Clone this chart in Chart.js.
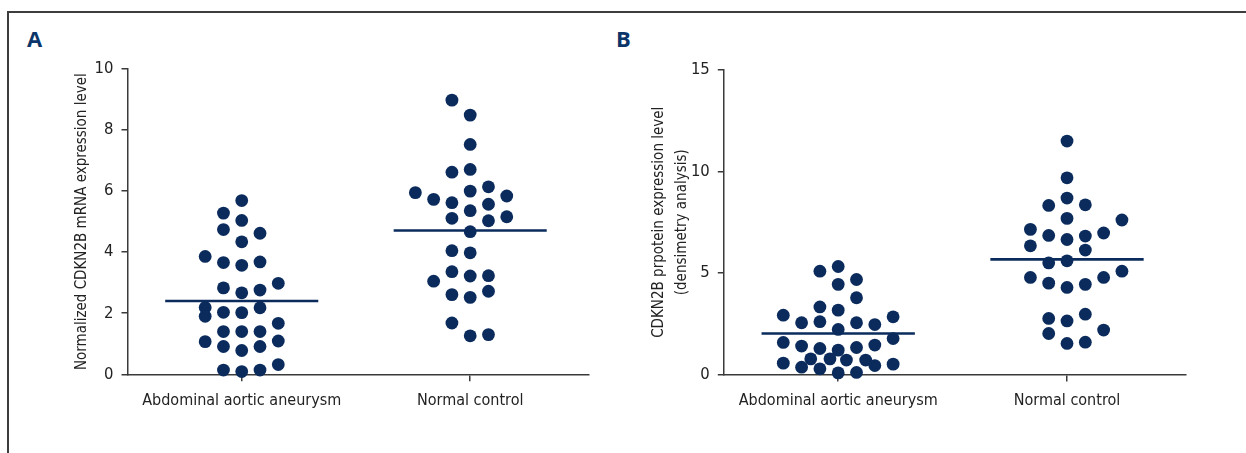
<!DOCTYPE html>
<html>
<head>
<meta charset="utf-8">
<script src="https://cdn.jsdelivr.net/npm/chart.js@4.4.0/dist/chart.umd.min.js"></script>
<style>
  body { margin: 0; background: #fff; }
  #fig { position: relative; width: 1246px; height: 453px; overflow: hidden; background: #fff; }
  #frame { position: absolute; left: 7px; top: 11px; width: 1300px; height: 500px;
           border-top: 2px solid #3d3d3d; border-left: 2px solid #3d3d3d; }
  .panel { position: absolute; font-family: "Open Sans", sans-serif; font-weight: 700;
           font-size: 22px; line-height: 1; color: #0c3669; }
  #wrapA { position: absolute; left: 0; top: 0; }
  #wrapB { position: absolute; left: 600px; top: 0; }
</style>
</head>
<body>
<div id="fig">
  <div id="frame"></div>
  <div class="panel" style="left:27px;top:27px">A</div>
  <div class="panel" style="left:616px;top:27px">B</div>
  <div id="wrapA"><canvas id="chartA" width="600" height="453"></canvas></div>
  <div id="wrapB"><canvas id="chartB" width="620" height="453"></canvas></div>
</div>
<script>
// groups
const categories = ['Abdominal aortic aneurysm', 'Normal control'];

// panel A - mRNA (values + beeswarm slot of each dot)
const mrnaAAA = [5.69, 5.04, 4.34, 3.57, 2.67, 2.02, 1.40, 0.78, 0.09,
                 5.28, 4.74, 3.66, 2.83, 2.03, 1.40, 0.91, 0.14,
                 4.62, 3.68, 2.76, 2.18, 1.40, 0.91, 0.14,
                 3.86, 2.19, 1.90, 1.07,
                 2.98, 1.67, 1.09, 0.32];
const mrnaAAASlot = [0, 0, 0, 0, 0, 0, 0, 0, 0,
                     -1, -1, -1, -1, -1, -1, -1, -1,
                     1, 1, 1, 1, 1, 1, 1,
                     -2, -2, -2, -2,
                     2, 2, 2, 2];
const mrnaNormal = [8.49, 7.53, 6.71, 6.00, 5.36, 4.67, 3.98, 3.22, 2.52, 1.26,
                    8.98, 6.62, 5.62, 5.11, 4.05, 3.36, 2.61, 1.68,
                    6.14, 5.57, 5.03, 3.23, 2.72, 1.30,
                    5.84, 5.16,
                    5.73, 3.05,
                    5.95];
const mrnaNormalSlot = [0, 0, 0, 0, 0, 0, 0, 0, 0, 0,
                        -1, -1, -1, -1, -1, -1, -1, -1,
                        1, 1, 1, 1, 1, 1,
                        2, 2,
                        -2, -2,
                        -3];
const mrnaMeans = [2.40, 4.71];
const mrnaTicks = [0, 2, 4, 6, 8, 10];

// panel B - protein
const protAAA = [5.32, 4.44, 3.17, 2.22, 1.20, 0.08,
                 5.09, 3.33, 2.60, 1.28, 0.28,
                 4.68, 3.78, 2.55, 1.33, 0.10,
                 2.55, 1.40, 0.36,
                 2.46, 1.45, 0.44,
                 2.92, 1.58, 0.56,
                 2.84, 1.77, 0.51,
                 0.77, 0.77, 0.71, 0.71];
const protAAASlot = [0, 0, 0, 0, 0, 0,
                     -1, -1, -1, -1, -1,
                     1, 1, 1, 1, 1,
                     -2, -2, -2,
                     2, 2, 2,
                     -3, -3, -3,
                     3, 3, 3,
                     -1.5, -0.45, 0.45, 1.5];
const protNormal = [11.50, 9.69, 8.69, 7.69, 6.65, 5.60, 4.29, 2.64, 1.53,
                    8.33, 6.85, 5.50, 4.50, 2.76, 2.02,
                    8.36, 6.82, 6.13, 4.44, 2.97, 1.59,
                    7.15, 6.34, 4.78,
                    6.97, 4.78, 2.19,
                    7.61, 5.09];
const protNormalSlot = [0, 0, 0, 0, 0, 0, 0, 0, 0,
                        -1, -1, -1, -1, -1, -1,
                        1, 1, 1, 1, 1, 1,
                        -2, -2, -2,
                        2, 2, 2,
                        3, 3];
const protMeans = [2.02, 5.67];
const protTicks = [0, 5, 10, 15];

const navy = '#0a2b5c';
const axisCol = '#3a3a3a';
const narrow = '"Liberation Sans Narrow", "DejaVu Sans Condensed", sans-serif';
const slotW = 0.08;
const meanHalf = 0.335;

function dots(vals, slots, pos) {
  return vals.map((v, i) => ({ x: pos + slots[i] * slotW, y: v }));
}

function meanLine(m, pos) {
  return [{ x: pos - meanHalf, y: m }, { x: pos + meanHalf, y: m }];
}

function makePanel(id, groups, means, ticks, title, box) {
  const datasets = [];
  groups.forEach((g, i) => {
    datasets.push({
      type: 'scatter', data: dots(g.vals, g.slots, i + 1),
      backgroundColor: navy, borderWidth: 0, pointRadius: 6.4, clip: false
    });
  });
  means.forEach((m, i) => {
    datasets.push({
      type: 'line', data: meanLine(m, i + 1), borderColor: navy, borderWidth: 2.6,
      pointRadius: 0, fill: false
    });
  });

  return new Chart(document.getElementById(id), {
    type: 'scatter',
    data: { datasets },
    options: {
      responsive: false, animation: false, devicePixelRatio: 1,
      layout: { autoPadding: false, padding: { left: 0, top: box.top, right: box.right, bottom: 0 } },
      plugins: { legend: { display: false }, tooltip: { enabled: false } },
      scales: {
        x: {
          type: 'linear', min: 0.5, max: 2.52,
          afterFit: s => { s.height = 453 - box.bottom; },
          afterBuildTicks: s => { s.ticks = categories.map((c, i) => ({ value: i + 1 })); },
          grid: { drawOnChartArea: false, tickLength: 7, color: axisCol, lineWidth: 1.5 },
          border: { color: axisCol, width: 1.5 },
          ticks: {
            autoSkip: false, maxRotation: 0, padding: 10, color: '#222',
            font: { family: narrow, size: 16 },
            callback: v => categories[v - 1]
          }
        },
        y: {
          min: ticks[0], max: ticks[ticks.length - 1],
          afterFit: s => { s.width = box.left; },
          afterBuildTicks: s => { s.ticks = ticks.map(v => ({ value: v })); },
          grid: { drawOnChartArea: false, tickLength: 6, color: axisCol, lineWidth: 1.5 },
          border: { color: axisCol, width: 1.5 },
          ticks: { padding: 8, color: '#222', font: { family: narrow, size: 16.5 } },
          title: {
            display: true, text: title, color: '#222',
            font: { family: narrow, size: 15, lineHeight: Array.isArray(title) ? 1.5 : 1.2 },
            padding: { top: box.titlePad, bottom: 0 }
          }
        }
      }
    }
  });
}

makePanel('chartA',
  [{ vals: mrnaAAA, slots: mrnaAAASlot }, { vals: mrnaNormal, slots: mrnaNormalSlot }],
  mrnaMeans, mrnaTicks, 'Normalized CDKN2B mRNA expression level',
  { left: 127.5, top: 69, right: 11, bottom: 374.3, titlePad: 73 });

makePanel('chartB',
  [{ vals: protAAA, slots: protAAASlot }, { vals: protNormal, slots: protNormalSlot }],
  protMeans, protTicks, ['CDKN2B prpotein expression level', '(densimetry analysis)'],
  { left: 123.8, top: 70, right: 34, bottom: 374.5, titlePad: 48 });
</script>
</body>
</html>
